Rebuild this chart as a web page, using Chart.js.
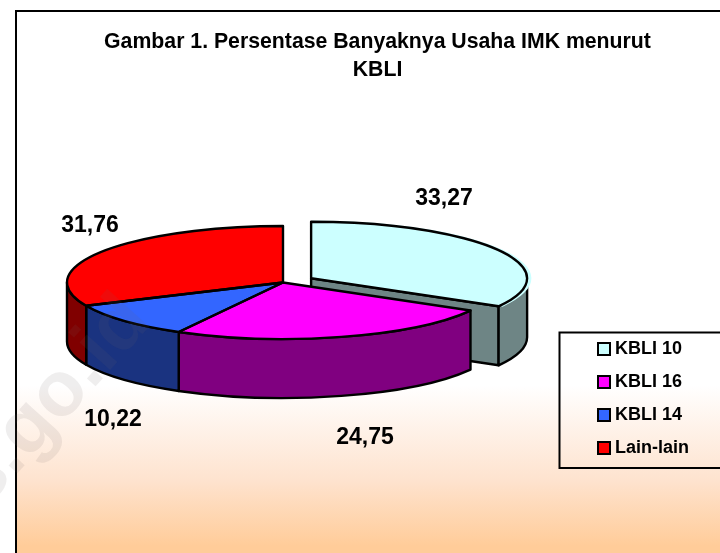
<!DOCTYPE html>
<html><head><meta charset="utf-8">
<style>html,body{margin:0;padding:0;background:#fff;overflow:hidden}canvas{display:block}</style>
<script src="https://cdn.jsdelivr.net/npm/chart.js@4"></script>
</head><body><canvas id="c" width="720" height="553"></canvas>
<script>
const categories = ['KBLI 10', 'KBLI 16', 'KBLI 14', 'Lain-lain'];
const values = [33.27, 24.75, 10.22, 31.76];
const sliceColors = ['#CCFFFF', '#FF00FF', '#3366FF', '#FF0000'];
const wallColors = ['#6E8585', '#800080', '#1A3380', '#800000'];
const offsets = [130, 0, 0, 0];
const labelCenters = [[444, 199], [365, 438], [113, 420], [90, 226]];
const titleLines = ['Gambar 1. Persentase Banyaknya Usaha IMK menurut', 'KBLI'];
const FONT = '"Liberation Sans", Arial, sans-serif';
const PIE = {x: 283, y: 282.5, k: 0.2616, depth: 59, line: 2.4};

function swatch(color) {
  const s = document.createElement('canvas'); s.width = 14; s.height = 14;
  const g = s.getContext('2d');
  g.fillStyle = color; g.fillRect(1, 1, 12, 12);
  g.strokeStyle = '#000'; g.lineWidth = 2; g.strokeRect(1, 1, 12, 12);
  return s;
}
function sliceCenter(arc) {
  const mid = (arc.startAngle + arc.endAngle) / 2, d = (arc.options.offset || 0) / 4;
  return {x: PIE.x + Math.cos(mid) * d, y: PIE.y + Math.sin(mid) * d * PIE.k};
}
const pie3d = {
  id: 'pie3d',
  beforeDraw(chart) {
    const c = chart.ctx;
    c.save();
    const g = c.createLinearGradient(0, 385, 0, 546);
    g.addColorStop(0, '#FFFFFF'); g.addColorStop(0.59, '#FEE3CF'); g.addColorStop(1, '#FFCC99');
    c.fillStyle = g; c.fillRect(16, 11, 720, 560);
    c.strokeStyle = '#000'; c.lineWidth = 2;
    c.strokeRect(16, 11, 760, 600);
    c.restore();
  },
  afterDraw(chart) {
    const c = chart.ctx;
    c.save();
    c.strokeStyle = '#000'; c.lineWidth = 2;
    c.strokeRect(559.5, 332.5, 200, 135.5);
    c.fillStyle = '#000'; c.font = 'bold 23px ' + FONT;
    c.textAlign = 'center'; c.textBaseline = 'middle';
    values.forEach((v, i) => c.fillText(v.toFixed(2).replace('.', ','), labelCenters[i][0], labelCenters[i][1]));
    c.translate(21, 437); c.rotate(-48 * Math.PI / 180);
    c.fillStyle = 'rgba(110,100,100,0.11)'; c.font = 'bold 78px ' + FONT;
    c.fillText('bps.go.id', 0, 0);
    c.restore();
  },
  beforeDatasetsDraw(chart) {
    const c = chart.ctx, arcs = chart.getDatasetMeta(0).data, d = PIE.depth;
    c.save();
    c.strokeStyle = '#000'; c.lineWidth = PIE.line; c.lineJoin = 'round';
    arcs.forEach((arc, i) => {
      const o = sliceCenter(arc), rx = arc.outerRadius, ry = rx * PIE.k;
      if (arc.options.offset) {
        const ex = o.x + Math.cos(arc.endAngle) * rx, ey = o.y + Math.sin(arc.endAngle) * ry;
        c.beginPath(); c.moveTo(o.x, o.y); c.lineTo(ex, ey); c.lineTo(ex, ey + d); c.lineTo(o.x, o.y + d); c.closePath();
        c.fillStyle = wallColors[i]; c.fill(); c.stroke();
      }
      const a = Math.max(arc.startAngle, 0), b = Math.min(arc.endAngle, Math.PI);
      if (a < b) {
        c.beginPath(); c.ellipse(o.x, o.y, rx, ry, 0, a, b); c.ellipse(o.x, o.y + d, rx, ry, 0, b, a, true); c.closePath();
        c.fillStyle = wallColors[i]; c.fill(); c.stroke();
      }
    });
    c.restore();
    const first = arcs[0];
    c.save();
    c.translate(PIE.x, PIE.y); c.scale(1, PIE.k); c.translate(-first.x, -first.y);
  },
  afterDatasetsDraw(chart) {
    const c = chart.ctx, arcs = chart.getDatasetMeta(0).data;
    c.restore();
    c.save();
    c.strokeStyle = '#000'; c.lineWidth = PIE.line; c.lineJoin = 'round';
    arcs.forEach(arc => {
      const o = sliceCenter(arc), rx = arc.outerRadius;
      c.beginPath(); c.moveTo(o.x, o.y);
      c.ellipse(o.x, o.y, rx, rx * PIE.k, 0, arc.startAngle, arc.endAngle);
      c.closePath(); c.stroke();
    });
    c.restore();
  }
};
new Chart(document.getElementById('c'), {
  type: 'pie',
  plugins: [pie3d],
  data: {labels: categories, datasets: [{data: values, backgroundColor: sliceColors, borderWidth: 0, offset: offsets, clip: false}]},
  options: {
    responsive: false, animation: false,
    radius: 216,
    layout: {padding: {left: 56, right: 21, bottom: 81, top: 0}},
    plugins: {
      tooltip: {enabled: false},
      title: {display: true, text: titleLines, color: '#000', padding: {top: 28, bottom: 0},
        font: {family: FONT, size: 21.25, weight: 'bold', lineHeight: 1.32}},
      legend: {position: 'right', align: 'end',
        labels: {color: '#000', font: {family: FONT, size: 18, weight: 'bold'}, padding: 15,
          usePointStyle: true, pointStyleWidth: 4,
          generateLabels(chart) {
            return categories.map((t, i) => ({text: t, fillStyle: sliceColors[i], strokeStyle: '#000', lineWidth: 2, pointStyle: swatch(sliceColors[i]), index: i, fontColor: '#000'}));
          }}}
    }
  }
});
</script></body></html>
